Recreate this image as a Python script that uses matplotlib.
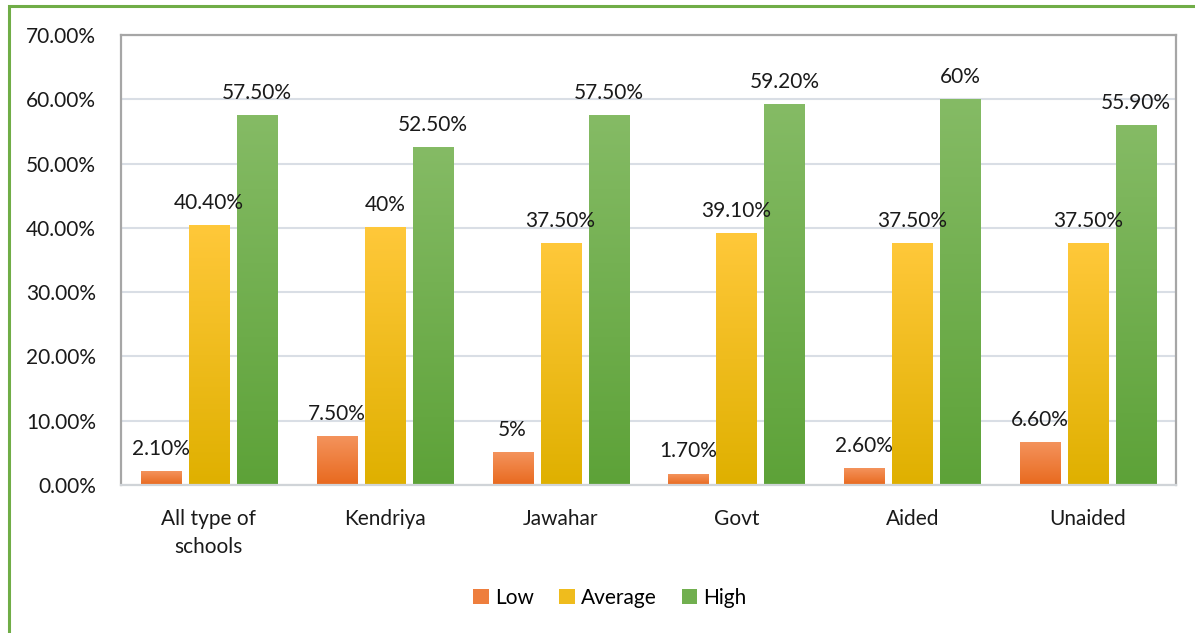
import numpy as np
import matplotlib.pyplot as plt
from matplotlib.patches import Rectangle, Patch
from matplotlib.colors import LinearSegmentedColormap

plt.rcParams['font.family'] = ['Lato', 'DejaVu Sans']

categories = ['All type of\nschools', 'Kendriya', 'Jawahar', 'Govt', 'Aided', 'Unaided']
low = [2.1, 7.5, 5.0, 1.7, 2.6, 6.6]
average = [40.4, 40.0, 37.5, 39.1, 37.5, 37.5]
high = [57.5, 52.5, 57.5, 59.2, 60.0, 55.9]
low_labels = ['2.10%', '7.50%', '5%', '1.70%', '2.60%', '6.60%']
average_labels = ['40.40%', '40%', '37.50%', '39.10%', '37.50%', '37.50%']
high_labels = ['57.50%', '52.50%', '57.50%', '59.20%', '60%', '55.90%']

series = [
    ('Low', low, low_labels, ('#E8691E', '#F4935C')),
    ('Average', average, average_labels, ('#DFB000', '#FFC83A')),
    ('High', high, high_labels, ('#5DA238', '#85BB65')),
]

W, H = 1195, 633
fs = 15
fig = plt.figure(figsize=(W / 100, H / 100), dpi=100)
ax = fig.add_axes([121 / W, 1 - 485 / H, (1176 - 121) / W, (485 - 35) / H])

# outer green border (right/bottom run off the picture)
fig.patches.append(Rectangle((9 / W, -0.1), 1.2, 1.1 - 6 / H, transform=fig.transFigure,
                             fill=False, edgecolor='#70AD47', linewidth=2.2))

x = np.arange(len(categories))
width = 0.228
step = 0.273
grad = np.linspace(0, 1, 256).reshape(-1, 1)

handles = []
for i, (name, vals, labels, (c_bot, c_top)) in enumerate(series):
    cmap = LinearSegmentedColormap.from_list(name, [c_bot, c_top])
    xs = x + (i - 1) * step
    for xi, v, lab in zip(xs, vals, labels):
        ax.imshow(grad, extent=[xi - width / 2, xi + width / 2, 0, v], origin='lower',
                  aspect='auto', cmap=cmap, zorder=2)
        ax.annotate(lab, (xi, v), xytext=(0, 12), textcoords='offset points',
                    ha='center', va='baseline', fontsize=fs, color='#1a1a1a', zorder=4)
    handles.append(Patch(facecolor=cmap(0.5), label=name))

ax.set_xlim(-0.5, len(categories) - 0.5)
ax.set_ylim(0, 70)
ax.set_yticks(np.arange(0, 71, 10))
ax.set_yticklabels([f'{t:.2f}%' for t in np.arange(0, 71, 10)])
ax.set_xticks(x)
ax.set_xticklabels(categories, linespacing=1.55)
ax.tick_params(axis='both', length=0, labelsize=fs, labelcolor='#1a1a1a')
ax.tick_params(axis='y', pad=18)
ax.tick_params(axis='x', pad=17)
ax.grid(axis='y', color='#D9DEE5', linewidth=1.5, zorder=0)
ax.set_axisbelow(True)
for s in ['left', 'top', 'right']:
    ax.spines[s].set_color('#A6A6A6')
    ax.spines[s].set_linewidth(1.6)
ax.spines['bottom'].set_color('#D0D4D8')
ax.spines['bottom'].set_linewidth(1.6)

fig.legend(handles=handles, loc='center', bbox_to_anchor=(610 / W, 1 - 598 / H), ncol=3,
           frameon=False, fontsize=fs, handlelength=0.75, handleheight=0.75,
           handletextpad=0.3, columnspacing=1.2)

fig.savefig('out.png', dpi=100)
